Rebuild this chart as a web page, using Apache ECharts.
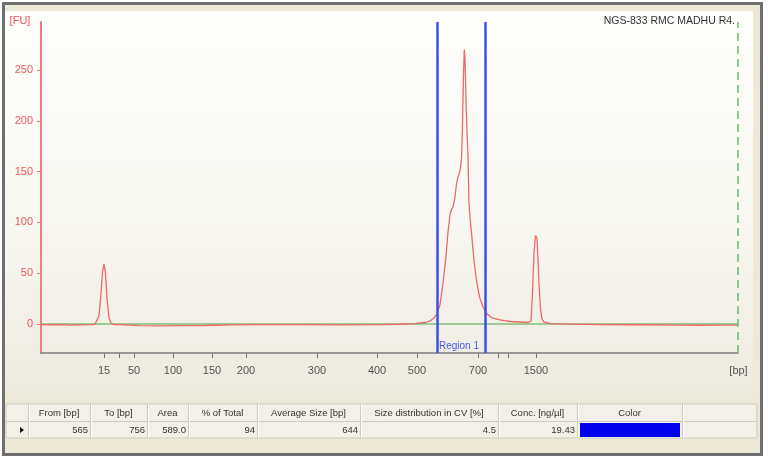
<!DOCTYPE html>
<html>
<head>
<meta charset="utf-8">
<script src="https://cdn.jsdelivr.net/npm/echarts@6/dist/echarts.min.js"></script>
<style>html,body{margin:0;padding:0;background:#fff}#c{width:768px;height:461px}</style>
</head>
<body>
<div id="c"></div>
<script>
// ---- data ----
const sampleName = 'NGS-833 RMC MADHU R4.';
const yTicks = [0, 50, 100, 150, 200, 250];
const ladderBp   = [15, 25, 50, 100, 150, 200, 300, 400, 500, 700, 850, 1000, 1500];
const ladderTime = [46.33, 47.83, 49.34, 53.26, 57.17, 60.59, 67.72, 73.75, 77.76, 83.89, 85.90, 86.90, 89.71];
const labeledBp  = [15, 50, 100, 150, 200, 300, 400, 500, 700, 1500];
const traceTime = [40.00,40.90,41.91,42.91,43.92,44.92,45.42,45.62,45.82,46.03,46.18,46.33,46.48,46.63,46.83,47.03,47.33,47.93,48.94,49.94,51.95,53.96,55.97,57.47,58.98,61.99,66.01,70.03,74.05,76.05,77.56,78.57,79.07,79.47,79.77,80.07,80.37,80.67,80.87,81.08,81.23,81.38,81.58,81.73,81.88,82.08,82.23,82.33,82.43,82.51,82.58,82.68,82.78,82.88,82.98,83.13,83.29,83.49,83.69,83.89,84.09,84.39,84.79,85.29,86.10,87.10,88.11,88.91,89.21,89.36,89.51,89.66,89.81,89.91,90.01,90.16,90.31,90.51,91.12,93.13,96.14,100.16,104.17,106.18,108.19,109.90];
const traceFU   = [-0.5,-0.8,-0.6,-1,-0.8,-0.6,-0.3,0,8,30,52,59,50,25,6,1,-0.5,-0.5,-1,-1.5,-1.8,-1.5,-1.6,-1.2,-0.8,-0.6,-0.5,-0.8,-0.5,-0.2,0.5,1.5,3,6,10,19,40,66,90,108,113,115,125,138,145,150,163,195,245,270,262,222,190,165,120,100,84,62,46,34,25,17,10,6,4,2.5,2,1.5,3,30,70,87,85,65,40,15,5,2,0.5,0,-0.5,-0.7,-1,-1.2,-1,-1];
const baselineTime = [40, 110];
const baselineFU = [0, 0];
const regionStart = 79.77;   // 565 bp
const regionEnd = 84.59;     // 756 bp
const regionName = 'Region 1';
const runEnd = 110;
const tableHeaders = ['From [bp]', 'To [bp]', 'Area', '% of Total', 'Average Size [bp]', 'Size distribution in CV [%]', 'Conc. [ng/µl]', 'Color'];
const tableValues  = ['565', '756', '589.0', '94', '644', '4.5', '19.43'];
const regionColor = '#0000EE';

// ---- layout ----
const colEdges = [6, 28, 90, 147, 188, 257, 360, 498, 577, 682, 757];
const tTop = 404, tMid = 421, tBot = 438;

const chart = echarts.init(document.getElementById('c'), null, {renderer: 'canvas'});

const graphics = [];
graphics.push({type: 'rect', z: -10, shape: {x: 3.5, y: 3.5, width: 758, height: 451},
  style: {fill: '#ECE9D8', stroke: '#6F6F6F', lineWidth: 3}});
graphics.push({type: 'rect', z: -9, shape: {x: 5, y: 11, width: 748, height: 388},
  style: {fill: new echarts.graphic.LinearGradient(0, 0, 0, 1, [
    {offset: 0, color: '#FEFEFC'}, {offset: 0.55, color: '#F8F7F1'}, {offset: 0.85, color: '#F0EEE5'}, {offset: 1, color: '#ECE9DC'}])}});
// table
const fontT = '9.5px "Liberation Sans", Arial, sans-serif';
graphics.push({type: 'rect', z: -8, shape: {x: colEdges[0], y: tTop, width: colEdges[colEdges.length-1]-colEdges[0], height: tBot - tTop},
  style: {fill: '#F2F0E8', stroke: '#CFCBBE', lineWidth: 1}});
graphics.push({type: 'line', z: -7, shape: {x1: colEdges[0], y1: tMid + 0.5, x2: colEdges[colEdges.length-1], y2: tMid + 0.5}, style: {stroke: '#CFCBBE', lineWidth: 1}});
for (let i = 1; i < colEdges.length - 1; i++) {
  graphics.push({type: 'line', z: -7, shape: {x1: colEdges[i] + 0.5, y1: tTop, x2: colEdges[i] + 0.5, y2: tBot}, style: {stroke: '#CFCBBE', lineWidth: 1}});
  graphics.push({type: 'line', z: -7, shape: {x1: colEdges[i] + 1.5, y1: tTop, x2: colEdges[i] + 1.5, y2: tBot}, style: {stroke: '#FFFFFF', lineWidth: 1}});
}
tableHeaders.forEach((h, i) => {
  const x0 = colEdges[i + 1], x1 = colEdges[i + 2];
  graphics.push({type: 'text', z: -6, style: {text: h, x: (x0 + x1) / 2, y: (tTop + tMid) / 2 + 0.5, align: 'center', verticalAlign: 'middle', font: fontT, fill: '#333'}});
});
tableValues.forEach((v, i) => {
  const x1 = colEdges[i + 2];
  graphics.push({type: 'text', z: -6, style: {text: v, x: x1 - 2, y: (tMid + tBot) / 2 + 0.5, align: 'right', verticalAlign: 'middle', font: fontT, fill: '#333'}});
});
graphics.push({type: 'rect', z: -6, shape: {x: colEdges[8] + 3, y: tMid + 2, width: colEdges[9] - colEdges[8] - 5, height: tBot - tMid - 3},
  style: {fill: regionColor}});
graphics.push({type: 'polygon', z: -6, shape: {points: [[20, 427], [24, 430], [20, 433]]}, style: {fill: '#111'}});
// labels
graphics.push({type: 'text', style: {text: '[FU]', x: 20, y: 21, align: 'center', verticalAlign: 'middle', font: '11px "Liberation Sans", Arial, sans-serif', fill: '#EE5555'}});
graphics.push({type: 'text', style: {text: '[bp]', x: 738.5, y: 371, align: 'center', verticalAlign: 'middle', font: '11px "Liberation Sans", Arial, sans-serif', fill: '#555'}});
graphics.push({type: 'text', style: {text: sampleName, x: 735, y: 21, align: 'right', verticalAlign: 'middle', font: '10.5px "Liberation Sans", Arial, sans-serif', fill: '#333'}});

const labeledTimes = labeledBp.map(b => ladderTime[ladderBp.indexOf(b)]);

const option = {
  animation: false,
  backgroundColor: '#FFFFFF',
  grid: {left: 41, right: 30, top: 22, bottom: 108},
  xAxis: {
    type: 'value', min: 40, max: 110,
    axisLine: {show: true, onZero: false, lineStyle: {color: '#7B7B7B', width: 1.5}},
    axisTick: {show: true, customValues: ladderTime, length: 5, lineStyle: {color: '#777', width: 1}},
    axisLabel: {show: true, customValues: labeledTimes, margin: 12, fontSize: 11, color: '#555', fontFamily: '"Liberation Sans", Arial, sans-serif',
      formatter: function (v) {
        let best = 0, d = 1e9;
        ladderTime.forEach((t, i) => { if (Math.abs(t - v) < d) { d = Math.abs(t - v); best = i; } });
        return String(ladderBp[best]);
      }},
    splitLine: {show: false}
  },
  yAxis: {
    type: 'value', min: -28.5, max: 297.2,
    axisLine: {show: true, onZero: false, lineStyle: {color: '#F27C7C', width: 2}},
    axisTick: {show: true, customValues: yTicks, length: 4, lineStyle: {color: '#F27C7C', width: 1}},
    axisLabel: {show: true, customValues: yTicks, margin: 8, fontSize: 11, color: '#EE5A5A', fontFamily: '"Liberation Sans", Arial, sans-serif'},
    splitLine: {show: false}
  },
  graphic: graphics,
  series: [
    {
      name: 'baseline', type: 'line', z: 2, showSymbol: false, silent: true,
      data: baselineTime.map((t, i) => [t, baselineFU[i]]),
      lineStyle: {color: '#7DBF7D', width: 1.5},
      markArea: {
        silent: true,
        itemStyle: {color: 'rgba(0,0,0,0)'},
        label: {show: true, position: 'insideBottomLeft', distance: 2, color: '#4A5AE8', fontSize: 10, fontFamily: '"Liberation Sans", Arial, sans-serif'},
        data: [[{xAxis: regionStart, name: regionName}, {xAxis: regionEnd}]]
      }
    },
    {
      name: 'trace', type: 'line', z: 3, showSymbol: false, silent: true,
      data: traceTime.map((t, i) => [t, traceFU[i]]),
      lineStyle: {color: '#F06868', width: 1.3},
      markLine: {
        symbol: ['none', 'none'], silent: true, label: {show: false}, animation: false,
        data: [
          {xAxis: runEnd, lineStyle: {color: '#6DBA6D', type: [8, 5], width: 1.5}},
          {xAxis: regionStart, lineStyle: {color: '#3F4FE6', type: 'solid', width: 2.5}},
          {xAxis: regionEnd, lineStyle: {color: '#3F4FE6', type: 'solid', width: 2.5}}
        ]
      }
    }
  ]
};
chart.setOption(option);
</script>
</body>
</html>
